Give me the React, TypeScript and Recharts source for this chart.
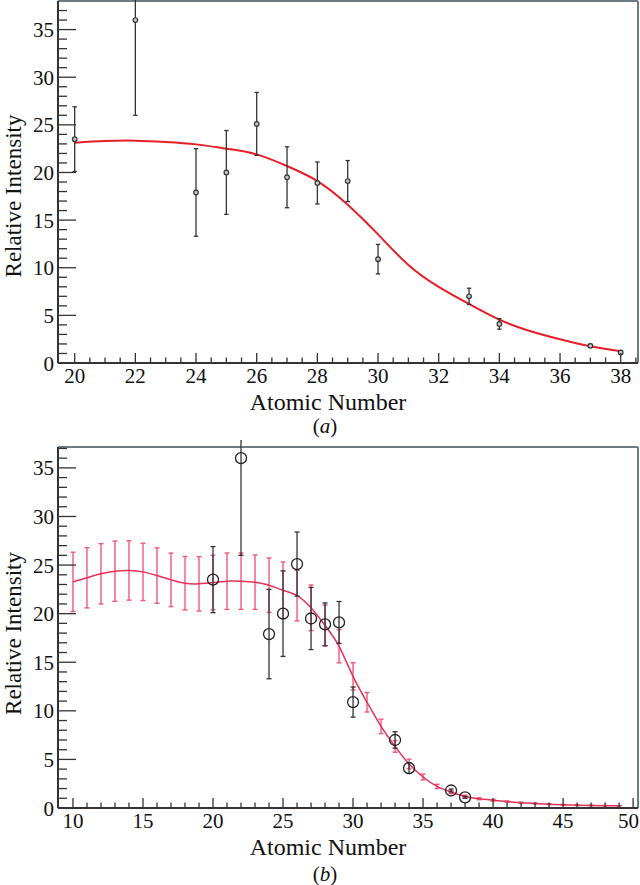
import React from "react";
import { ComposedChart, Line, Scatter, ErrorBar, XAxis, YAxis, ReferenceLine } from "recharts";

// measured intensities (same points in both panels)
const atomicNumbers = [20, 22, 24, 25, 26, 27, 28, 29, 30, 33, 34, 37, 38];
const intensities = [23.5, 36.0, 17.9, 20.0, 25.1, 19.5, 18.9, 19.1, 10.9, 7.0, 4.1, 1.8, 1.1];
const intensityErrors = [3.4, 10.0, 4.6, 4.4, 3.3, 3.2, 2.2, 2.15, 1.55, 0.85, 0.55, 0.15, 0.1];

// (a) fitted curve
const fitZ = [20, 21, 22, 23, 24, 25, 26, 27, 28, 29, 30, 31, 32, 33, 34, 35, 36, 37, 38];
const fitValues = [23.13, 23.3, 23.34, 23.2, 22.95, 22.5, 21.9, 20.67, 19.1, 16.62, 13.5, 10.3, 8.0, 6.2, 4.55, 3.36, 2.49, 1.75, 1.23];

// (b) model with its uncertainties
const modelZ = [10, 11, 12, 13, 14, 15, 16, 17, 18, 19, 20, 21, 22, 23, 24, 25, 26, 27, 28, 29,
  30, 31, 32, 33, 34, 35, 36, 37, 38, 39, 40, 41, 42, 43, 44, 45, 46, 47, 48, 49];
const modelValues = [23.27, 23.69, 24.1, 24.37, 24.44, 24.3, 23.92, 23.48, 23.13, 23.07,
  23.2, 23.34, 23.34, 23.24, 22.93, 22.41, 21.86, 20.6, 18.79, 16.64,
  13.55, 10.88, 8.4, 6.34, 4.53, 3.19, 2.22, 1.64, 1.19, 0.95,
  0.8, 0.66, 0.55, 0.46, 0.39, 0.33, 0.29, 0.26, 0.24, 0.22];
const modelErrors = [3.05, 3.1, 3.1, 3.1, 3.05, 2.95, 2.85, 2.75, 2.75, 2.8,
  2.8, 2.9, 2.9, 2.8, 2.8, 2.9, 2.6, 2.35, 2.1, 1.7,
  1.4, 1.0, 0.74, 0.6, 0.5, 0.3, 0.22, 0.17, 0.13, 0.1,
  0.08, 0.06, 0.05, 0.05, 0.04, 0.04, 0.03, 0.03, 0.03, 0.02];

// axis ticks
const majorXa = [20, 22, 24, 26, 28, 30, 32, 34, 36, 38];
const majorXb = [10, 15, 20, 25, 30, 35, 40, 45, 50];
const majorY = [0, 5, 10, 15, 20, 25, 30, 35];

const FONT = "Liberation Serif, Times New Roman, serif";
const AXIS = "#333";
const FRAME = "#6d7c82";
const GAP = 4;
const WIDTH = 640;

const steps = (from: number, to: number, step: number) => {
  const out: number[] = [];
  for (let v = from; v <= to + 1e-9; v += step) out.push(Math.round(v * 100) / 100);
  return out;
};

const points = atomicNumbers.map((x, i) => ({ x, y: intensities[i], err: intensityErrors[i] }));
const fit = fitZ.map((x, i) => ({ x, y: fitValues[i] }));
const model = modelZ.map((x, i) => ({ x, y: modelValues[i], err: modelErrors[i] }));

const txt = (size: number) => ({ fontFamily: FONT, fontSize: size });

function YTick(props: any) {
  const { x, y, payload, majors } = props;
  const axisX = x + GAP;
  const major = majors.includes(payload.value);
  return (
    <g>
      <line x1={axisX} x2={axisX + (major ? 18 : 9)} y1={y} y2={y} stroke={AXIS} strokeWidth={1.3} />
      {major && (
        <text x={axisX - 4} y={y} dy="0.36em" textAnchor="end" style={txt(21)} fill="#111">
          {payload.value}
        </text>
      )}
    </g>
  );
}

function XTick(props: any) {
  const { x, y, payload, majors } = props;
  const axisY = y - GAP;
  const major = majors.includes(payload.value);
  // keep the last label inside the picture
  const atEdge = x + 11 > WIDTH;
  return (
    <g>
      <line x1={x} x2={x} y1={axisY} y2={axisY - (major ? 10 : 5.5)} stroke={AXIS} strokeWidth={1.3} />
      {major && (
        <text x={atEdge ? WIDTH - 1 : x} y={axisY + 20} textAnchor={atEdge ? "end" : "middle"}
          style={txt(21)} fill="#111">
          {payload.value}
        </text>
      )}
    </g>
  );
}

function XTitle(props: any) {
  const { viewBox, tag, tagDy } = props;
  const cx = viewBox.x + viewBox.width / 2 - 20;
  return (
    <g fill="#111">
      <text x={cx} y={viewBox.y + 47} textAnchor="middle" style={txt(24)}>Atomic Number</text>
      <text x={cx - 3} y={viewBox.y + tagDy} textAnchor="middle" style={txt(21)}>
        (<tspan fontStyle="italic">{tag}</tspan>)
      </text>
    </g>
  );
}

function YTitle(props: any) {
  const { viewBox, shift } = props;
  const cx = viewBox.x + 21;
  const cy = viewBox.y + viewBox.height / 2 + shift;
  return (
    <text x={cx} y={cy} transform={`rotate(-90 ${cx} ${cy})`} textAnchor="middle"
      style={txt(23)} fill="#111">
      Relative Intensity
    </text>
  );
}

const smallDot = (p: any) => (
  <circle cx={p.cx} cy={p.cy} r={2.3} fill="#c8c8c8" stroke="#333" strokeWidth={1.2} />
);
const bigRing = (p: any) => (
  <circle cx={p.cx} cy={p.cy} r={5.5} fill="none" stroke="#222" strokeWidth={1.3} />
);

export default function App() {
  const xa: [number, number] = [19.45, 38.57];
  const xb: [number, number] = [8.93, 50.35];
  return (
    <div style={{ position: "absolute", left: 0, top: 0, width: WIDTH, height: 885, background: "#fff" }}>
      <ComposedChart width={WIDTH} height={440} margin={{ top: 1, right: 2, bottom: 0, left: 0 }}>
        <XAxis dataKey="x" type="number" domain={xa} allowDataOverflow ticks={steps(20, 38.5, 0.5)}
          interval={0} tickSize={0} tickMargin={GAP} tickLine={false} height={77}
          axisLine={{ stroke: AXIS, strokeWidth: 2 }} tick={<XTick majors={majorXa} />}
          label={<XTitle tag="a" tagDy={70} />} />
        <YAxis dataKey="y" type="number" domain={[0, 38]} allowDataOverflow ticks={steps(0, 37, 1)}
          interval={0} tickSize={0} tickMargin={GAP} tickLine={false} width={58}
          axisLine={{ stroke: AXIS, strokeWidth: 2 }} tick={<YTick majors={majorY} />}
          label={<YTitle shift={14} />} />
        <ReferenceLine y={38} stroke={FRAME} strokeWidth={2} />
        <ReferenceLine x={xa[1]} stroke={FRAME} strokeWidth={2} />
        <Line data={fit} dataKey="y" type="natural" stroke="#e61e26" strokeWidth={2} dot={false}
          activeDot={false} isAnimationActive={false} />
        <Scatter data={points} dataKey="y" shape={smallDot} isAnimationActive={false}>
          <ErrorBar dataKey="err" direction="y" width={2.2} stroke="#333" strokeWidth={1.3} isAnimationActive={false} />
        </Scatter>
      </ComposedChart>
      <ComposedChart width={WIDTH} height={445} margin={{ top: 7, right: 2, bottom: 0, left: 0 }}>
        <XAxis dataKey="x" type="number" domain={xb} allowDataOverflow ticks={steps(10, 50, 1)}
          interval={0} tickSize={0} tickMargin={GAP} tickLine={false} height={77}
          axisLine={{ stroke: AXIS, strokeWidth: 2 }} tick={<XTick majors={majorXb} />}
          label={<XTitle tag="b" tagDy={73} />} />
        <YAxis dataKey="y" type="number" domain={[0, 37.15]} allowDataOverflow ticks={steps(0, 37, 1)}
          interval={0} tickSize={0} tickMargin={GAP} tickLine={false} width={58}
          axisLine={{ stroke: AXIS, strokeWidth: 2 }} tick={<YTick majors={majorY} />}
          label={<YTitle shift={6} />} />
        <ReferenceLine y={37.15} stroke={FRAME} strokeWidth={2} />
        <ReferenceLine x={xb[1]} stroke={FRAME} strokeWidth={2} />
        <Line data={model} dataKey="y" type="natural" stroke="#e5315a" strokeWidth={1.5} dot={false}
          activeDot={false} isAnimationActive={false}>
          <ErrorBar dataKey="err" direction="y" width={2.5} stroke="#f0587a" strokeWidth={1.4} isAnimationActive={false} />
        </Line>
        <Scatter data={points} dataKey="y" shape={bigRing} isAnimationActive={false}>
          <ErrorBar dataKey="err" direction="y" width={2.5} stroke="#333" strokeWidth={1.3} isAnimationActive={false} />
        </Scatter>
      </ComposedChart>
    </div>
  );
}
